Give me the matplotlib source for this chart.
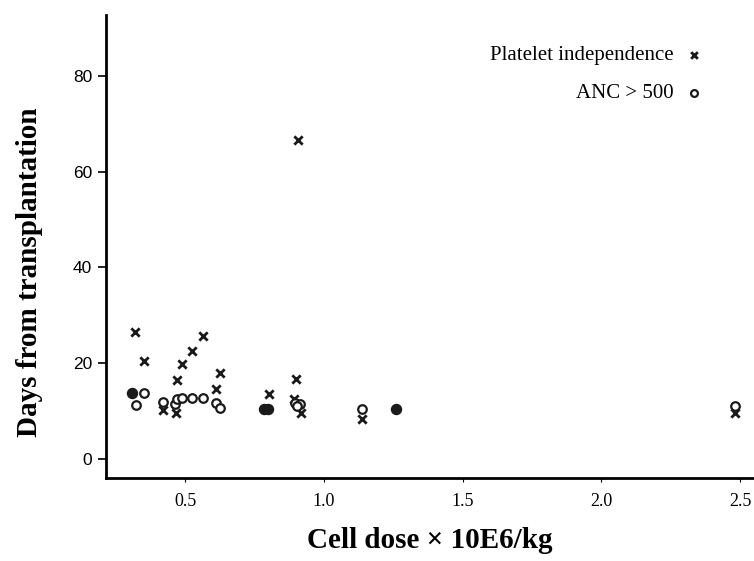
import matplotlib
matplotlib.use("Agg")
import matplotlib.pyplot as plt

# Platelet independence (crosses)
plt_dose = [0.32, 0.353, 0.42, 0.466, 0.471, 0.488, 0.526, 0.566, 0.61, 0.626,
            0.804, 0.899, 0.894, 0.918, 0.907, 1.137, 2.48]
plt_days = [26.6, 20.5, 10.2, 9.5, 16.5, 19.8, 22.6, 25.7, 14.6, 17.9,
            13.5, 16.6, 12.5, 9.5, 66.6, 8.4, 9.5]

# ANC > 500 (open circles)
anc_dose = [0.351, 0.323, 0.422, 0.464, 0.472, 0.488, 0.526, 0.564, 0.61, 0.626,
            0.896, 0.914, 0.905, 1.137, 2.48]
anc_days = [13.7, 11.3, 11.8, 11.5, 12.6, 12.7, 12.7, 12.8, 11.6, 10.6,
            11.6, 11.5, 11.0, 10.4, 11.1]

# overlapping circles that print as solid blobs
blob_dose = [0.308, 0.785, 0.80, 1.26]
blob_days = [13.7, 10.5, 10.5, 10.4]

serif = "Liberation Serif"

fig = plt.figure(figsize=(7.54, 5.61), dpi=100)
ax = fig.add_axes([0.1406, 0.148, 0.8594, 0.825])

ax.scatter(plt_dose, plt_days, marker="x", s=36, color="#1a1a1a", linewidths=2.0,
           label="Platelet independence")
ax.scatter(anc_dose, anc_days, marker="o", s=38, facecolors="white",
           edgecolors="#1a1a1a", linewidths=1.6, label="ANC > 500")
ax.scatter(blob_dose, blob_days, marker="o", s=52, color="#1a1a1a")

ax.set_xlim(0.215, 2.55)
ax.set_ylim(-4, 92.7)
ax.set_xticks([0.5, 1.0, 1.5, 2.0, 2.5])
ax.set_xticklabels(["0.5", "1.0", "1.5", "2.0", "2.5"], family=serif, fontsize=13)
ax.set_yticks([0, 20, 40, 60, 80])
ax.set_yticklabels(["0", "20", "40", "60", "80"], family="Liberation Sans", fontsize=12.5)
ax.tick_params(axis="x", length=3, width=0.8, pad=8)
ax.tick_params(axis="y", length=6, width=1.2, pad=4)

for side in ["top", "right"]:
    ax.spines[side].set_visible(False)
for side in ["left", "bottom"]:
    ax.spines[side].set_linewidth(2.0)

ax.set_xlabel("Cell dose \u00d7 10E6/kg", family=serif, fontweight="bold",
              fontsize=21, labelpad=12)
ax.set_ylabel("Days from transplantation", family=serif, fontweight="bold",
              fontsize=21)
ax.yaxis.set_label_coords(-0.118, 0.445)
ax.yaxis.label.set_verticalalignment("center")

ax.legend(loc="upper right", bbox_to_anchor=(0.953, 0.975), frameon=False,
          markerfirst=False, prop={"family": serif, "size": 15},
          handletextpad=0.5, labelspacing=0.9, handlelength=1.0,
          scatterpoints=1, markerscale=0.8)

fig.savefig("out.png", dpi=100)
